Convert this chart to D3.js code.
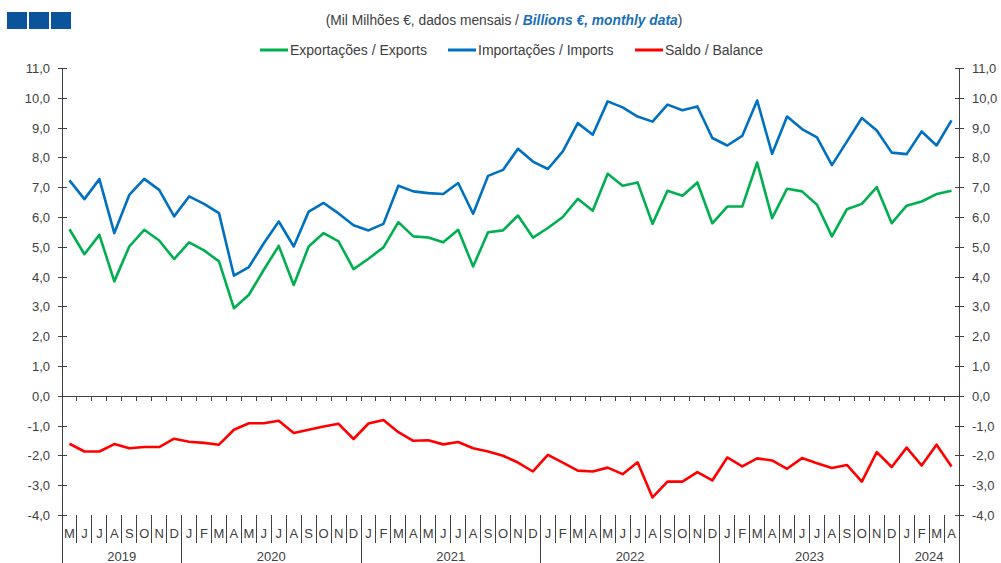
<!DOCTYPE html>
<html>
<head>
<meta charset="utf-8">
<script src="https://cdn.jsdelivr.net/npm/d3@7"></script>
<style>
    body { margin: 0; background: #fff; }
    svg { display: block; font-family: "Liberation Sans", Arial, sans-serif; }
    .tick-label { font-size: 13px; fill: #404040; }
    .month-label { font-size: 13px; fill: #404040; }
    .axis { stroke: #404040; stroke-width: 1; shape-rendering: crispEdges; }
</style>
</head>
<body>
<svg id="chart"></svg>
<script>
var monthLabels = ['M', 'J', 'J', 'A', 'S', 'O', 'N', 'D',
    'J', 'F', 'M', 'A', 'M', 'J', 'J', 'A', 'S', 'O', 'N', 'D',
    'J', 'F', 'M', 'A', 'M', 'J', 'J', 'A', 'S', 'O', 'N', 'D',
    'J', 'F', 'M', 'A', 'M', 'J', 'J', 'A', 'S', 'O', 'N', 'D',
    'J', 'F', 'M', 'A', 'M', 'J', 'J', 'A', 'S', 'O', 'N', 'D',
    'J', 'F', 'M', 'A'];
var years = ['2019', '2020', '2021', '2022', '2023', '2024'];
var monthsPerYear = [8, 12, 12, 12, 12, 4];

var exportsData = [5.59, 4.75, 5.40, 3.84, 5.01, 5.57, 5.21, 4.59,
    5.15, 4.88, 4.51, 2.94, 3.39, 4.23, 5.03, 3.72, 5.01, 5.46, 5.18, 4.25,
    4.60, 4.98, 5.83, 5.35, 5.31, 5.15, 5.57, 4.34, 5.49, 5.55, 6.05, 5.31,
    5.63, 6.00, 6.61, 6.21, 7.45, 7.05, 7.16, 5.77, 6.88, 6.71, 7.16, 5.79,
    6.35, 6.35, 7.83, 5.96, 6.95, 6.86, 6.41, 5.35, 6.26, 6.44, 7.00, 5.79,
    6.38, 6.52, 6.77, 6.88];
var importsData = [7.23, 6.60, 7.27, 5.46, 6.74, 7.28, 6.91, 6.02,
    6.69, 6.44, 6.13, 4.03, 4.32, 5.12, 5.85, 5.01, 6.18, 6.47, 6.12, 5.72,
    5.55, 5.77, 7.05, 6.86, 6.80, 6.77, 7.14, 6.11, 7.38, 7.58, 8.29, 7.86,
    7.61, 8.20, 9.15, 8.76, 9.88, 9.68, 9.37, 9.20, 9.77, 9.58, 9.71, 8.65,
    8.40, 8.72, 9.91, 8.12, 9.37, 8.95, 8.67, 7.74, 8.53, 9.32, 8.90, 8.16,
    8.11, 8.87, 8.40, 9.24];
var balanceData = [-1.61, -1.87, -1.87, -1.62, -1.76, -1.72, -1.72, -1.44,
    -1.54, -1.58, -1.64, -1.14, -0.92, -0.92, -0.84, -1.25, -1.14, -1.03, -0.94, -1.45,
    -0.93, -0.81, -1.22, -1.51, -1.49, -1.63, -1.55, -1.76, -1.87, -2.01, -2.24, -2.54,
    -1.98, -2.24, -2.51, -2.54, -2.41, -2.63, -2.23, -3.41, -2.88, -2.88, -2.56, -2.84,
    -2.07, -2.37, -2.10, -2.17, -2.45, -2.09, -2.26, -2.42, -2.32, -2.88, -1.89, -2.39,
    -1.74, -2.34, -1.64, -2.37];
var yTicks = [11, 10, 9, 8, 7, 6, 5, 4, 3, 2, 1, 0, -1, -2, -3, -4];

var series = [
    { name: 'Exportações / Exports', values: exportsData, color: '#00b050', legendX: 260 },
    { name: 'Importações / Imports', values: importsData, color: '#0070c0', legendX: 448 },
    { name: 'Saldo / Balance', values: balanceData, color: '#ff0000', legendX: 635 }
];

var width = 1001;
var height = 563;
var left = 62;
var right = 959;
var labelTop = 515;

var svg = d3.select('#chart')
    .attr('width', width)
    .attr('height', height);

var x = d3.scaleBand()
    .domain(d3.range(monthLabels.length))
    .range([left, right])
    .paddingInner(0)
    .paddingOuter(0);

var y = d3.scaleLinear()
    .domain([-4, 11])
    .range([515, 68]);

function fmt(v) {
    return d3.format('.1f')(v).replace('.', ',').replace('−', '-');
}

// logo
svg.selectAll('rect.logo')
    .data([0, 1, 2])
    .enter()
    .append('rect')
    .attr('x', function (d) { return 7 + d * 22; })
    .attr('y', 12)
    .attr('width', 20)
    .attr('height', 17)
    .attr('fill', '#0b539b');

// title
var title = svg.append('text')
    .attr('x', 504)
    .attr('y', 25)
    .attr('text-anchor', 'middle')
    .style('font-size', '13.8px')
    .attr('fill', '#404040');
title.append('tspan').text('(Mil Milhões €, dados mensais / ');
title.append('tspan')
    .text('Billions €, monthly data')
    .attr('fill', '#1a6fb8')
    .style('font-weight', 'bold')
    .style('font-style', 'italic');
title.append('tspan').text(')');

// legend
var legend = svg.selectAll('g.legend')
    .data(series)
    .enter()
    .append('g')
    .attr('transform', function (d) { return 'translate(' + d.legendX + ',50)'; });
legend.append('line')
    .attr('x1', 0)
    .attr('x2', 28)
    .attr('stroke', function (d) { return d.color; })
    .attr('stroke-width', 3);
legend.append('text')
    .attr('x', 30)
    .attr('y', 5)
    .style('font-size', '14px')
    .attr('fill', '#404040')
    .text(function (d) { return d.name; });

// y axes
[left, right].forEach(function (ax) {
    svg.append('line')
        .attr('x1', ax).attr('x2', ax)
        .attr('y1', y(11)).attr('y2', height)
        .classed('axis', true);
    svg.selectAll(null)
        .data(yTicks)
        .enter()
        .append('line')
        .attr('x1', ax - 4).attr('x2', ax + 5)
        .attr('y1', function (d) { return Math.round(y(d)) + 0.5; })
        .attr('y2', function (d) { return Math.round(y(d)) + 0.5; })
        .classed('axis', true);
    svg.selectAll(null)
        .data(yTicks)
        .enter()
        .append('text')
        .attr('x', ax === left ? ax - 12 : ax + 13)
        .attr('y', function (d) { return y(d) + 5; })
        .attr('text-anchor', ax === left ? 'end' : 'start')
        .classed('tick-label', true)
        .text(fmt);
});

// zero line with month ticks
svg.append('line')
    .attr('x1', left).attr('x2', right)
    .attr('y1', Math.round(y(0)) + 0.5).attr('y2', Math.round(y(0)) + 0.5)
    .classed('axis', true);
svg.selectAll('line.zero-tick')
    .data(d3.range(1, monthLabels.length))
    .enter()
    .append('line')
    .attr('x1', function (d) { return x(d); })
    .attr('x2', function (d) { return x(d); })
    .attr('y1', y(0))
    .attr('y2', y(0) + 5)
    .classed('axis', true);

// month labels and separators
svg.selectAll('line.month-sep')
    .data(d3.range(1, monthLabels.length))
    .enter()
    .append('line')
    .attr('x1', function (d) { return x(d); })
    .attr('x2', function (d) { return x(d); })
    .attr('y1', labelTop)
    .attr('y2', 543)
    .classed('axis', true);
svg.selectAll('text.month-label')
    .data(monthLabels)
    .enter()
    .append('text')
    .attr('x', function (d, i) { return x(i) + x.bandwidth() / 2; })
    .attr('y', 538)
    .attr('text-anchor', 'middle')
    .classed('month-label', true)
    .text(function (d) { return d; });

// year separators and labels
var yearStart = 0;
years.forEach(function (yr, k) {
    var x0 = x(yearStart);
    var end = yearStart + monthsPerYear[k];
    var x1 = end < monthLabels.length ? x(end) : right;
    if (k > 0) {
        svg.append('line')
            .attr('x1', x0).attr('x2', x0)
            .attr('y1', labelTop).attr('y2', height)
            .classed('axis', true);
    }
    svg.append('text')
        .attr('x', (x0 + x1) / 2)
        .attr('y', 561)
        .attr('text-anchor', 'middle')
        .classed('month-label', true)
        .text(yr);
    yearStart = end;
});

// series lines
var line = d3.line()
    .x(function (d, i) { return x(i) + x.bandwidth() / 2; })
    .y(function (d) { return y(d); });

svg.selectAll('path.series')
    .data(series)
    .enter()
    .append('path')
    .attr('d', function (d) { return line(d.values); })
    .attr('fill', 'none')
    .attr('stroke', function (d) { return d.color; })
    .attr('stroke-width', 2.6)
    .attr('stroke-linejoin', 'round');
</script>
</body>
</html>
